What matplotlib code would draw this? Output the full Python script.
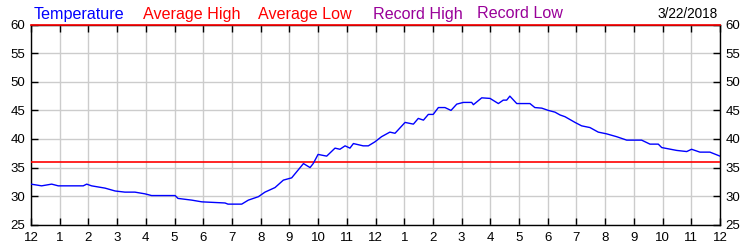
import matplotlib
matplotlib.use("Agg")
import matplotlib.pyplot as plt

plt.rcParams['font.family'] = ['Liberation Sans', 'DejaVu Sans']

# Temperature readings (hour of day, degrees F)
hours = [0.0, 0.37, 0.72, 0.95, 1.82, 1.94, 2.11, 2.58, 2.93, 3.27, 3.62, 3.97, 4.2,
         5.02, 5.12, 5.6, 5.95, 6.76, 6.86, 7.34, 7.57, 7.92, 8.15, 8.5, 8.79, 9.08,
         9.31, 9.49, 9.72, 9.83, 10.0, 10.3, 10.59, 10.76, 10.94, 11.11, 11.23, 11.57,
         11.75, 11.98, 12.21, 12.5, 12.68, 13.03, 13.32, 13.49, 13.67, 13.84, 14.01,
         14.19, 14.42, 14.63, 14.83, 15.06, 15.35, 15.41, 15.7, 15.99, 16.28, 16.45,
         16.57, 16.68, 16.92, 17.38, 17.55, 17.79, 18.02, 18.25, 18.43, 18.6, 18.95,
         19.18, 19.47, 19.76, 20.05, 20.4, 20.75, 21.27, 21.56, 21.85, 21.97, 22.49,
         22.84, 23.01, 23.3, 23.65, 24.0]
temps = [32.1, 31.8, 32.1, 31.8, 31.8, 32.1, 31.8, 31.4, 30.9, 30.7, 30.7, 30.4, 30.1,
         30.1, 29.6, 29.3, 29.0, 28.8, 28.6, 28.6, 29.3, 29.9, 30.7, 31.5, 32.8, 33.2,
         34.6, 35.7, 35.0, 35.7, 37.3, 37.0, 38.4, 38.2, 38.8, 38.4, 39.2, 38.8,
         38.8, 39.5, 40.4, 41.2, 41.0, 42.9, 42.6, 43.6, 43.3, 44.3, 44.3,
         45.5, 45.5, 45.0, 46.1, 46.4, 46.4, 46.0, 47.2, 47.1, 46.2, 46.8,
         46.8, 47.5, 46.2, 46.2, 45.5, 45.4, 45.0, 44.7, 44.2, 43.9, 42.9,
         42.3, 42.0, 41.2, 40.9, 40.4, 39.8, 39.8, 39.1, 39.1, 38.5, 38.0,
         37.8, 38.2, 37.7, 37.7, 37.0]

average_high = 60
average_low = 36

x_tick_labels = ['12', '1', '2', '3', '4', '5', '6', '7', '8', '9', '10', '11',
                 '12', '1', '2', '3', '4', '5', '6', '7', '8', '9', '10', '11', '12']
y_ticks = [25, 30, 35, 40, 45, 50, 55, 60]

legend_items = ['Temperature', 'Average High', 'Average Low', 'Record High', 'Record Low']
legend_colors = ['#0000FF', '#FF0000', '#FF0000', '#990099', '#990099']
legend_x = [34, 143, 258, 373, 477]
date_text = '3/22/2018'

fig = plt.figure(figsize=(7.5, 2.5), dpi=100)
ax = fig.add_axes([31/750, 1-224.7/250, (720-31)/750, 200/250])

ax.set_xlim(0, 24)
ax.set_ylim(25, 60)
ax.set_xticks(range(25))
ax.set_xticklabels(x_tick_labels)
ax.set_yticks(y_ticks)
ax.grid(True, color='#CCCCCC', linewidth=1)
ax.set_axisbelow(True)

ax.axhline(average_low, color='#FF0000', linewidth=1.2, zorder=3)
ax.axhline(average_high, color='#FF0000', linewidth=1.2, zorder=5, clip_on=False)
ax.plot(hours, temps, color='#0000FF', linewidth=1, zorder=4)

for s in ['left', 'right', 'bottom', 'top']:
    ax.spines[s].set_color('black')
    ax.spines[s].set_linewidth(1)

ax.tick_params(axis='both', direction='in', length=5, width=1, color='black',
               labelsize=9.5, top=True, right=True, labelright=True, pad=4)
ax.tick_params(axis='x', pad=5)

for name, col, xp in zip(legend_items, legend_colors, legend_x):
    fig.text(xp/750, 1-18.5/250, name, color=col, fontsize=11.6, va='baseline', ha='left')
fig.text(718/750, 1-17.8/250, date_text, color='black', fontsize=9.8, va='baseline', ha='right')

fig.savefig('out.png', dpi=100)
